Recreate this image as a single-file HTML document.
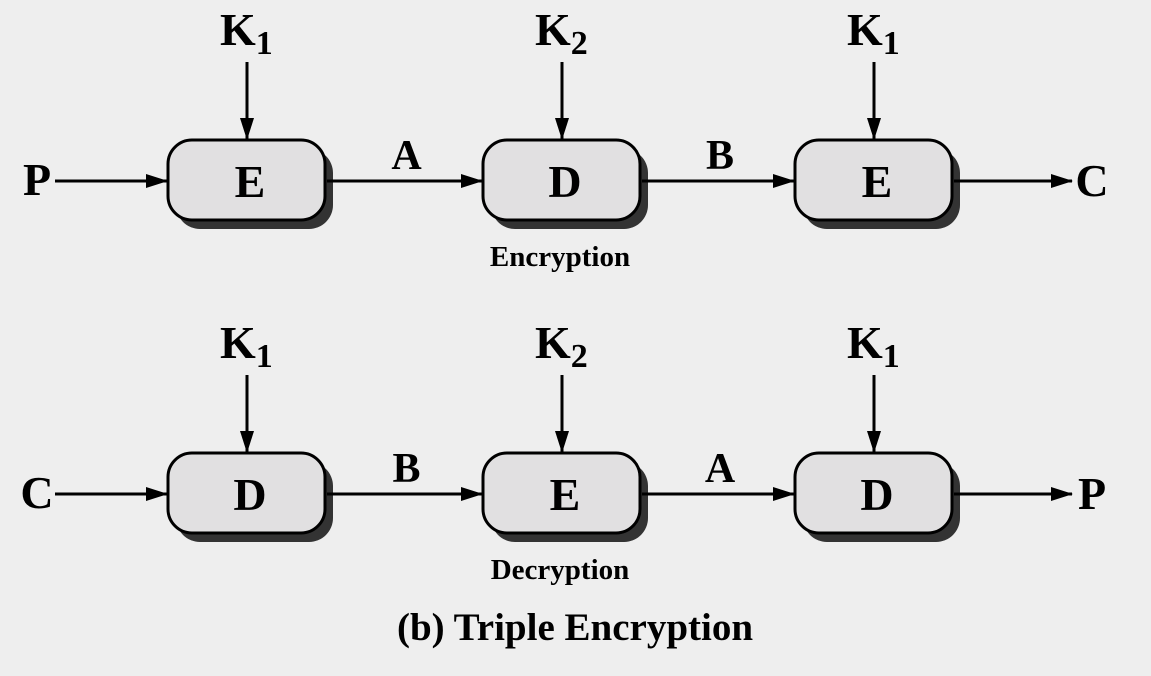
<!DOCTYPE html>
<html><head><meta charset="utf-8"><style>
html,body{margin:0;padding:0;background:#eeeeee;}
svg{display:block;}
text{font-family:"Liberation Serif",serif;font-weight:bold;fill:#000;}
</style></head><body>
<svg width="1151" height="676" viewBox="0 0 1151 676">
<defs>
<marker id="ah" markerWidth="22" markerHeight="16" refX="21" refY="8" orient="auto" markerUnits="userSpaceOnUse" viewBox="0 0 22 16">
<path d="M0,1 L22,8 L0,15 z" fill="#000"/>
</marker>
</defs>
<rect width="1151" height="676" fill="#eeeeee"/>
<g id="rows"></g>
<text x="560" y="266" font-size="29" text-anchor="middle">Encryption</text>
<text x="560" y="579" font-size="29" text-anchor="middle">Decryption</text>
<text x="575" y="640" font-size="39" text-anchor="middle">(b) Triple Encryption</text>
</svg>
<script>
const NS="http://www.w3.org/2000/svg";
const g=document.getElementById('rows');
const boxX=[168,483,795];
const rows=[
 {y:140,inp:"P",out:"C",ops:["E","D","E"],keys:["1","2","1"],mids:["A","B"],name:"encryption"},
 {y:453,inp:"C",out:"P",ops:["D","E","D"],keys:["1","2","1"],mids:["B","A"],name:"decryption"}
];
function el(tag,attrs,parent){const e=document.createElementNS(NS,tag);for(const k in attrs)e.setAttribute(k,attrs[k]);(parent||g).appendChild(e);return e;}
function txt(x,y,s,size,anchor,parent){const t=el('text',{x:x,y:y,'font-size':size,'text-anchor':anchor||'middle'},parent);t.textContent=s;return t;}
rows.forEach(r=>{
 const cy=r.y+41;
 const grp=el('g',{});
 
 
 const ti=txt(37,cy+14,r.inp,46,'middle',grp);
 
 
 el('line',{x1:55,y1:cy,x2:167,y2:cy,stroke:'#000','stroke-width':3,'marker-end':'url(#ah)'},grp);
 boxX.forEach((bx,i)=>{
  const kx=bx+79;
  el('rect',{x:bx+8,y:r.y+9,width:157,height:80,rx:24,fill:'#333'},grp);
  const b=el('rect',{x:bx,y:r.y,width:157,height:80,rx:24,fill:'#e1e0e1',stroke:'#000','stroke-width':3},grp);
  
  
  txt(kx+3,cy+16,r.ops[i],46,'middle',grp);
  const kt=el('text',{x:kx-27,y:r.y-95,'font-size':46,'text-anchor':'start'},grp);
  
  
  kt.textContent='K';
  const sub=el('tspan',{'font-size':34,dy:9},kt);sub.textContent=r.keys[i];
  el('line',{x1:kx,y1:r.y-78,x2:kx,y2:r.y-1,stroke:'#000','stroke-width':3,'marker-end':'url(#ah)'},grp);
  if(i<2){
   const x1=bx+159,x2=boxX[i+1]-1;
   el('line',{x1:x1,y1:cy,x2:x2,y2:cy,stroke:'#000','stroke-width':3,'marker-end':'url(#ah)'},grp);
   const m=txt((x1+x2)/2+2,cy-12,r.mids[i],42,'middle',grp);
   
   
  }
 });
 el('line',{x1:954,y1:cy,x2:1072,y2:cy,stroke:'#000','stroke-width':3,'marker-end':'url(#ah)'},grp);
 const to=txt(1092,cy+15,r.out,46,'middle',grp);
 
 
});
</script>
</body></html>
